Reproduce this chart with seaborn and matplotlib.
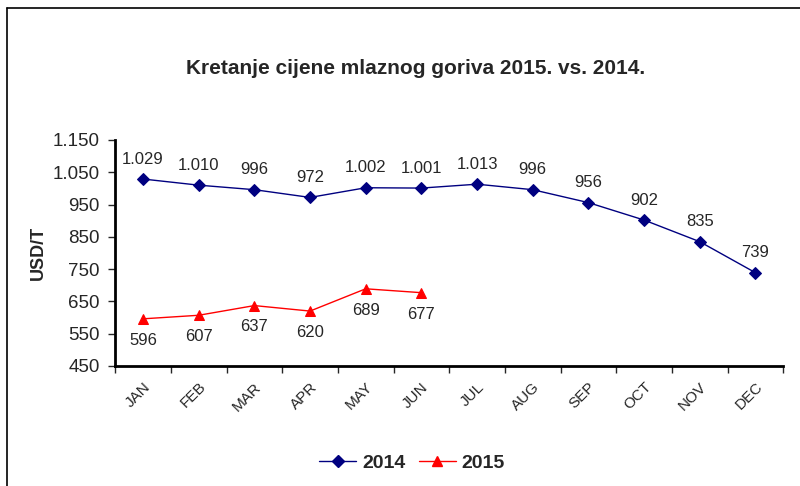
import numpy as np
import pandas as pd
import seaborn as sns
import matplotlib.pyplot as plt
from matplotlib.ticker import FuncFormatter
from matplotlib.lines import Line2D

months = ['JAN', 'FEB', 'MAR', 'APR', 'MAY', 'JUN', 'JUL', 'AUG', 'SEP', 'OCT', 'NOV', 'DEC']
cijena_2014 = [1029, 1010, 996, 972, 1002, 1001, 1013, 996, 956, 902, 835, 739]
cijena_2015 = [596, 607, 637, 620, 689, 677]

sns.set_style('white')
plt.rcParams['font.family'] = ['Liberation Sans Narrow', 'Liberation Sans', 'DejaVu Sans']

df14 = pd.DataFrame({'x': range(len(cijena_2014)), 'y': cijena_2014})
df15 = pd.DataFrame({'x': range(len(cijena_2015)), 'y': cijena_2015})

fig = plt.figure(figsize=(8, 4.86), dpi=100)
ax = fig.add_axes([0.144, 0.247, 0.835, 0.465])

sns.lineplot(data=df14, x='x', y='y', ax=ax, color='#000080', marker='D',
             markersize=6, markeredgecolor='#000080', linewidth=1)
sns.lineplot(data=df15, x='x', y='y', ax=ax, color='#ff0000', marker='^',
             markersize=7, markeredgecolor='#ff0000', linewidth=1)

def fmt(v):
    return f'{v:,.0f}'.replace(',', '.')

for i, v in enumerate(cijena_2014):
    ax.annotate(fmt(v), (i, v), xytext=(0, 9), textcoords='offset points',
                ha='center', va='bottom', fontsize=12)
for i, v in enumerate(cijena_2015):
    ax.annotate(fmt(v), (i, v), xytext=(0, -10), textcoords='offset points',
                ha='center', va='top', fontsize=12)

ax.set_xlim(-0.5, 11.5)
ax.set_ylim(450, 1150)
ax.set_yticks(np.arange(450, 1151, 100))
ax.yaxis.set_major_formatter(FuncFormatter(lambda v, p: fmt(v)))
ax.set_xticks(np.arange(-0.5, 12, 1))
ax.set_xticklabels([])
ax.set_xticks(range(12), minor=True)
ax.set_xticklabels(months, minor=True, rotation=45, ha='right', va='top',
                   rotation_mode='anchor', fontsize=11)
ax.tick_params(axis='x', which='minor', length=0, pad=10)
ax.tick_params(axis='x', which='major', length=5, width=1, direction='out', bottom=True)
ax.tick_params(axis='y', length=5, width=1, direction='out', left=True, labelsize=13.5, pad=6)

for s in ['top', 'right']:
    ax.spines[s].set_visible(False)
for s in ['left', 'bottom']:
    ax.spines[s].set_linewidth(2)
    ax.spines[s].set_color('black')

ax.set_xlabel('')
ax.set_ylabel('USD/T', fontsize=13, fontweight='bold')
fig.text(0.52, 0.86, 'Kretanje cijene mlaznog goriva 2015. vs. 2014.',
         ha='center', va='center', fontsize=15, fontweight='bold')

handles = [Line2D([], [], color='#000080', marker='D', markersize=6, linewidth=1),
           Line2D([], [], color='#ff0000', marker='^', markersize=7, linewidth=1)]
fig.legend(handles, ['2014', '2015'], loc='center', bbox_to_anchor=(0.515, 0.047),
           ncol=2, frameon=False, prop={'weight': 'bold', 'size': 14},
           handlelength=1.9, columnspacing=0.7, handletextpad=0.3)

# okvir grafikona
fig.add_artist(Line2D([0.009, 0.009], [0, 0.984], color='black', linewidth=1.2,
                      transform=fig.transFigure))
fig.add_artist(Line2D([0.009, 1], [0.984, 0.984], color='black', linewidth=1.2,
                      transform=fig.transFigure))

fig.savefig('out.png', dpi=100)
